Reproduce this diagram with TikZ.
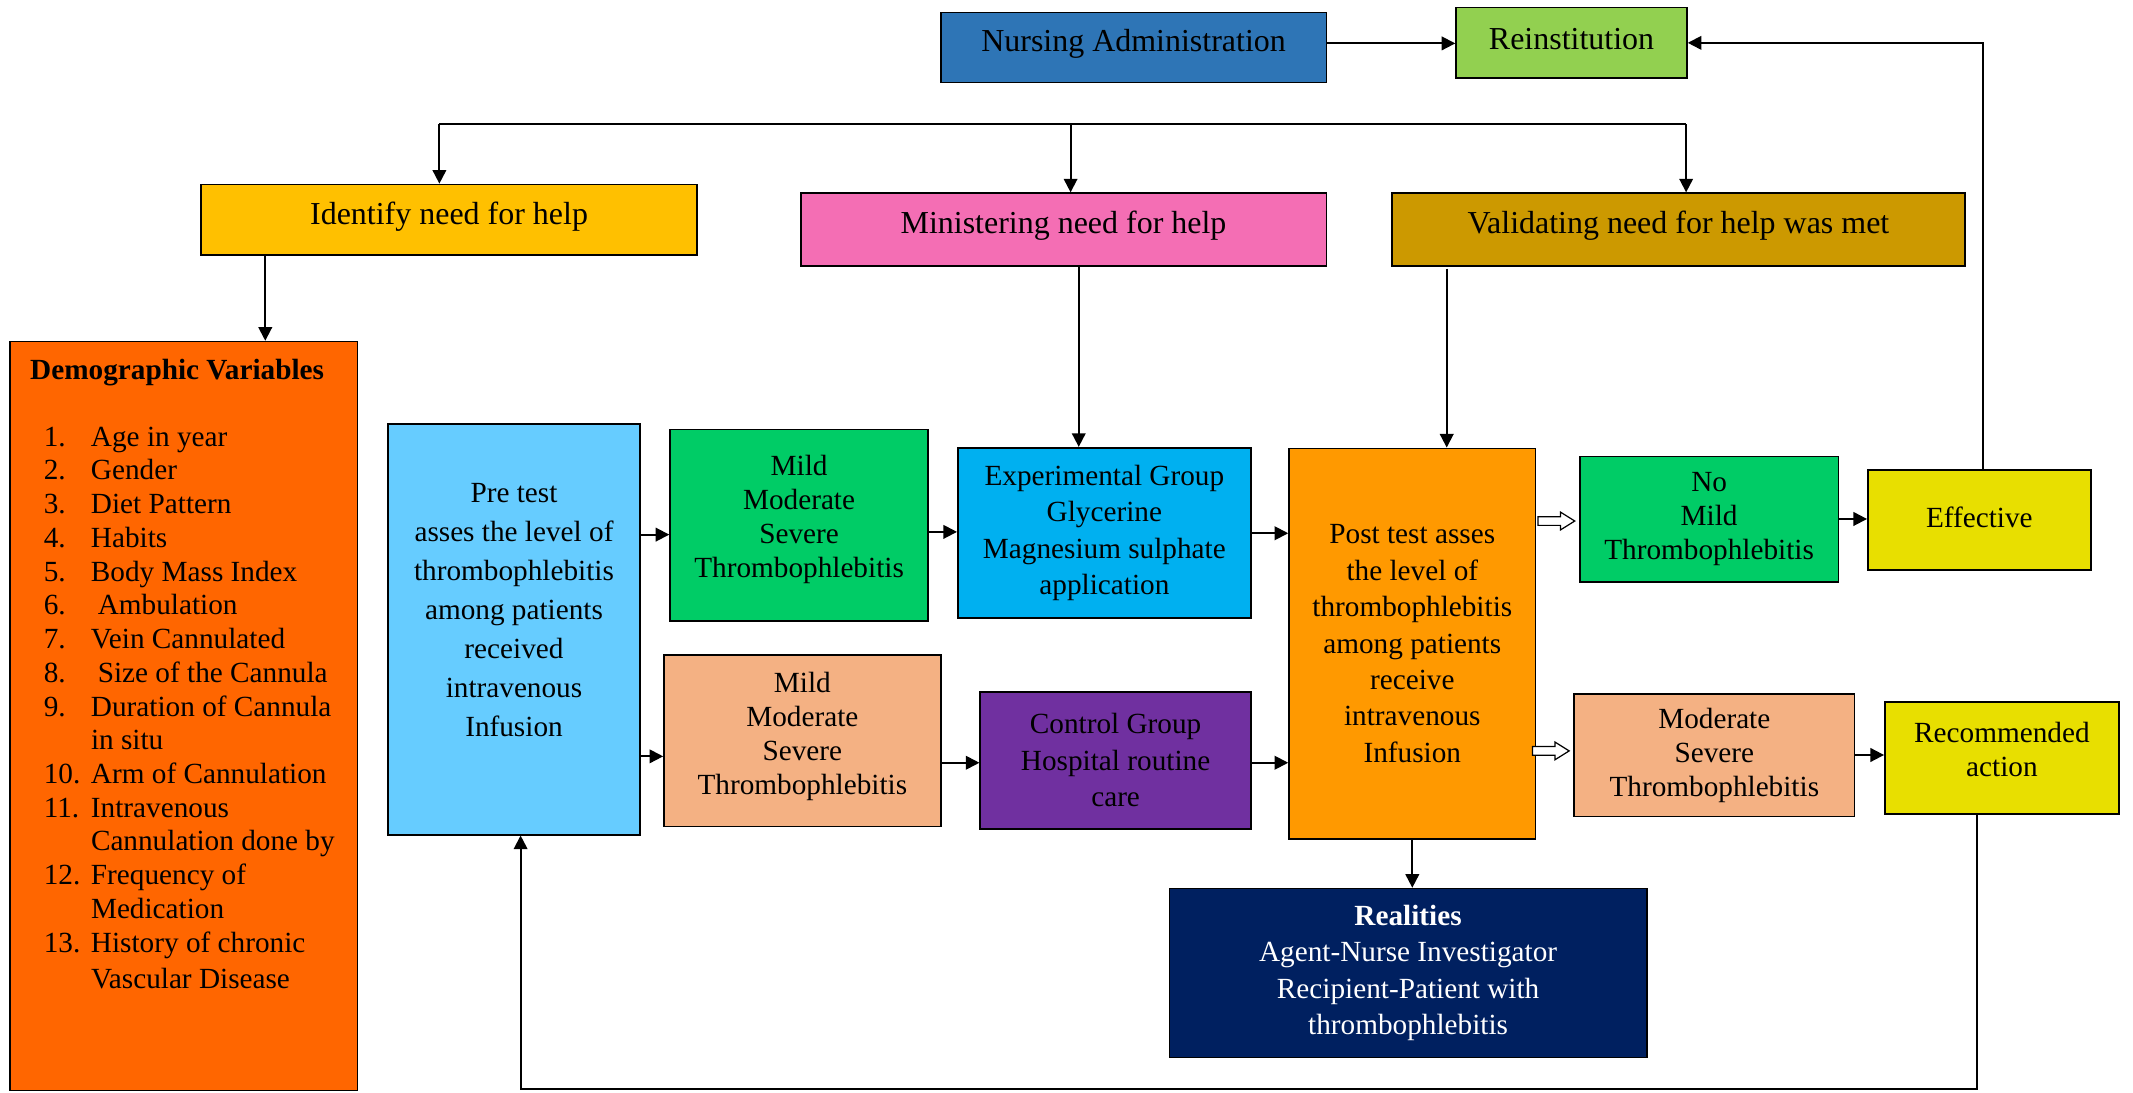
\documentclass[tikz,border=0pt]{standalone}
\usepackage{fontspec}
\setmainfont{Liberation Serif}
\usetikzlibrary{arrows.meta}
\definecolor{cNurse}{HTML}{2E75B6}
\definecolor{cRein}{HTML}{92D050}
\definecolor{cIden}{HTML}{FFC000}
\definecolor{cMin}{HTML}{F46EB4}
\definecolor{cVal}{HTML}{CC9900}
\definecolor{cDemo}{HTML}{FF6600}
\definecolor{cPre}{HTML}{66CCFF}
\definecolor{cGreen}{HTML}{00CC66}
\definecolor{cExp}{HTML}{00B0F0}
\definecolor{cPeach}{HTML}{F4B183}
\definecolor{cCtrl}{HTML}{7030A0}
\definecolor{cPost}{HTML}{FF9900}
\definecolor{cYel}{HTML}{E8DF00}
\definecolor{cReal}{HTML}{002060}
% name, x1, y1, x2, y2, fill, text options, text
\newcommand{\bx}[8]{%
  \node[boxst, fill=#6, minimum width={#4-#2}, minimum height={#5-#3}, anchor=north west] (#1) at (#2,#3) {};
  \node[txt, #7] (#1-t) at (#1.center) {#8};
}
\newcommand{\dn}[1]{\makebox[34.7pt][l]{#1}}
% hollow block arrow starting at a named coordinate
\newcommand{\harrow}[1]{%
  \draw[hollow, shift={(#1)}] (0,-3.2) -- (16.6,-3.2) -- (16.6,-6.5) -- (27,0) -- (16.6,6.5) -- (16.6,3.2) -- (0,3.2) -- cycle;
}
\begin{document}
\begin{tikzpicture}[x=1pt,y=-1pt,
  boxst/.style={draw=black, line width=1.2pt, inner sep=0pt, rectangle},
  txt/.style={align=center, inner sep=0pt, font=\fontsize{21.5}{26.8}\selectfont},
  toptxt/.style={font=\fontsize{23.5}{28}\selectfont, yshift=2.5pt},
  arr/.style={draw=black, line width=1.4pt, -{Triangle[length=10pt,width=10pt]}},
  ln/.style={draw=black, line width=1.4pt},
  hollow/.style={draw=black, fill=white, line width=0.9pt, line join=miter}]
\fill[white] (0,0) rectangle (1568,803);
\useasboundingbox (0,0) rectangle (1568,803);

% top row
\bx{nurse}{691}{8.6}{974.4}{60}{cNurse}{toptxt}{Nursing Administration}
\bx{rein}{1069.8}{4.9}{1239.5}{56.9}{cRein}{toptxt}{Reinstitution}
\bx{iden}{147}{135}{512}{187}{cIden}{toptxt}{Identify need for help}
\bx{mini}{588}{141.4}{974.4}{194.8}{cMin}{toptxt}{Ministering need for help}
\bx{vali}{1022.6}{141.4}{1443.9}{194.8}{cVal}{toptxt}{Validating need for help was met}

% demographic
\bx{demo}{6.6}{250.5}{262.2}{801}{cDemo}{opacity=0}{}
\node[anchor=base west, inner sep=0pt, font=\fontsize{21.5}{25}\selectfont\bfseries] (demo-title) at (22,279) {Demographic Variables};
\node[anchor=north west, inner sep=0pt, align=left, font=\fontsize{21.5}{24.8}\selectfont] (demo-list) at (32,313.5) {%
\dn{1.}Age in year\\
\dn{2.}Gender\\
\dn{3.}Diet Pattern\\
\dn{4.}Habits\\
\dn{5.}Body Mass Index\\
\dn{6.}\hspace{5pt}Ambulation\\
\dn{7.}Vein Cannulated\\
\dn{8.}\hspace{5pt}Size of the Cannula\\
\dn{9.}Duration of Cannula\\
\dn{}in situ\\
\dn{10.}Arm of Cannulation\\
\dn{11.}Intravenous\\
\dn{}Cannulation done by\\
\dn{12.}Frequency of\\
\dn{}Medication\\
\dn{13.}History of chronic\\[2.2pt]
\dn{}Vascular Disease};

% middle boxes
\bx{pre}{284.5}{311}{470}{613}{cPre}{font=\fontsize{21.5}{28.7}\selectfont, yshift=14pt}{Pre test\\asses the level of\\thrombophlebitis\\among patients\\received\\intravenous\\Infusion}
\bx{mildg}{492}{315}{681.6}{456}{cGreen}{font=\fontsize{21.5}{25}\selectfont, yshift=4pt}{Mild\\Moderate\\Severe\\Thrombophlebitis}
\bx{exp}{703.5}{328.5}{919}{453.6}{cExp}{}{Experimental Group\\Glycerine\\Magnesium sulphate\\application}
\bx{mildp}{487.5}{481}{691}{607}{cPeach}{font=\fontsize{21.5}{25}\selectfont, yshift=3.5pt}{Mild\\Moderate\\Severe\\Thrombophlebitis}
\bx{ctrl}{720}{508}{919}{608.6}{cCtrl}{}{Control Group\\Hospital routine\\care}
\bx{post}{947}{329}{1128.2}{616}{cPost}{}{Post test asses\\the level of\\thrombophlebitis\\among patients\\receive\\intravenous\\Infusion}
\bx{nomild}{1160.8}{335}{1350.8}{427}{cGreen}{font=\fontsize{21.5}{25}\selectfont}{No\\Mild\\Thrombophlebitis}
\bx{eff}{1372.5}{344.8}{1536.4}{418.3}{cYel}{yshift=1.5pt}{Effective}
\bx{modsev}{1156.5}{509.5}{1362.7}{599.6}{cPeach}{font=\fontsize{21.5}{25}\selectfont}{Moderate\\Severe\\Thrombophlebitis}
\bx{rec}{1385}{515.4}{1557}{597.8}{cYel}{font=\fontsize{21.5}{25}\selectfont, yshift=6pt}{Recommended\\action}
\bx{real}{859}{652.6}{1210}{776.8}{cReal}{text=white}{{\bfseries Realities}\\Agent-Nurse Investigator\\Recipient-Patient with\\thrombophlebitis}

% helper coordinates
\coordinate (busL) at (323,91.4);
\coordinate (busM) at (787,91.4);
\coordinate (busR) at (1239.5,91.4);
\coordinate (xiden) at (195,0);
\coordinate (xmini) at (793,0);
\coordinate (xvali) at (1063.5,0);
\coordinate (xeff) at (1458,0);
\coordinate (fbR) at (1453,800.5);
\coordinate (fbL) at (382.7,800.5);
\coordinate (y393) at (0,393);
\coordinate (y556) at (0,556);
\coordinate (y391) at (0,391);
\coordinate (y561) at (0,560.7);
\coordinate (y392) at (0,392);
\coordinate (y381) at (0,381.5);
\coordinate (y555) at (0,555);
\coordinate (y32) at (0,31.9);
\coordinate (ha1) at (1130.6,383);
\coordinate (ha2) at (1126.5,552);

% connectors
\draw[arr] (nurse.east |- y32) -- (rein.west |- y32);
\draw[ln] (busL) -- (busR);
\draw[arr] (busL) -- (iden.north -| busL);
\draw[arr] (busM) -- (mini.north -| busM);
\draw[arr] (busR) -- (vali.north -| busR);
\draw[arr] (iden.south -| xiden) -- (demo.north -| xiden);
\draw[arr] (mini.south -| xmini) -- (exp.north -| xmini);
\draw[arr] ([yshift=-1.5pt]vali.south -| xvali) -- (post.north -| xvali);
\draw[arr] (pre.east |- y393) -- (mildg.west |- y393);
\draw[arr] (pre.east |- y556) -- (mildp.west |- y556);
\draw[arr] (mildg.east |- y391) -- (exp.west |- y391);
\draw[arr] (mildp.east |- y561) -- (ctrl.west |- y561);
\draw[arr] (exp.east |- y392) -- (post.west |- y392);
\draw[arr] (ctrl.east |- y561) -- (post.west |- y561);
\draw[arr] (nomild.east |- y381) -- (eff.west |- y381);
\draw[arr] (modsev.east |- y555) -- (rec.west |- y555);
\draw[arr] (post.south) -- (post.south |- real.north);
\draw[arr] (eff.north -| xeff) |- (rein.east);
\draw[arr] (rec.south -| fbR) -- (fbR) -- (fbL) -- (pre.south -| fbL);

% hollow block arrows
\harrow{ha1}
\harrow{ha2}
\end{tikzpicture}
\end{document}
